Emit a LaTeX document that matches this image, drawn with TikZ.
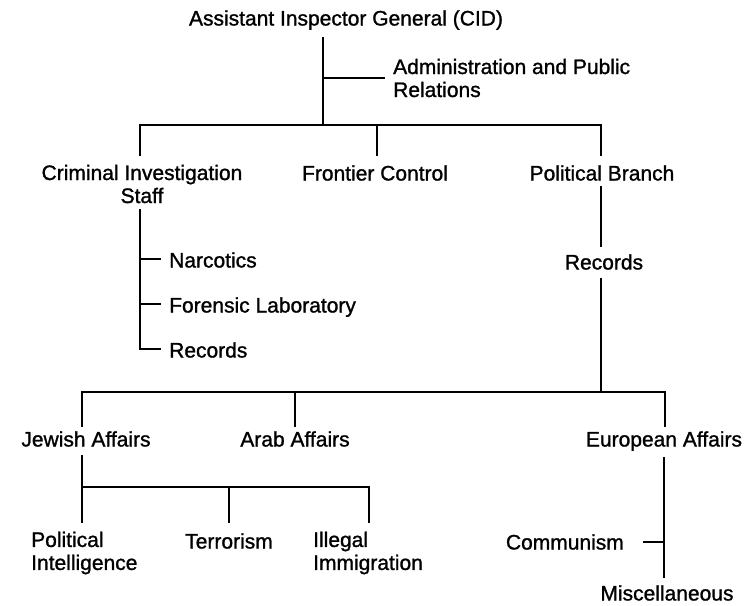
\documentclass[tikz,border=0pt]{standalone}
\usepackage{fontspec}
\setmainfont{Liberation Sans}[FakeBold=1.2]
\begin{document}
\begin{tikzpicture}[x=1pt,y=-1pt,
  lbl/.style={inner sep=0pt, text height=15pt, text depth=0pt, font=\fontsize{21}{23}\selectfont},
  ml/.style={inner sep=0pt, font=\fontsize{21}{23}\selectfont},
  conn/.style={line width=2.6pt, line join=miter, line cap=butt}]
\useasboundingbox (0,0) rectangle (752,605);

% ---- top level
\node[lbl] (title) at (346,18) {Assistant Inspector General (CID)};
\node[ml, anchor=west, align=left] (admin) at (393,78) {Administration and Public\\Relations};

\coordinate (s0) at (323,37);
\coordinate (s1) at (323,125);
\coordinate (sa) at (323,78);
\draw[conn] (s0) -- (s1);
\draw[conn] (sa) -- ([xshift=-8pt]sa -| admin.west);

% ---- second level
\node[ml, align=center] (cis) at (142,184) {Criminal Investigation\\Staff};
\node[lbl] (frontier) at (375,173) {Frontier Control};
\node[lbl] (political) at (602,173) {Political Branch};

\coordinate (d1) at (140,156);
\coordinate (d2) at (377,156);
\coordinate (d3) at (601,156);
\draw[conn] (d1) -- (d1 |- s1) -- (d3 |- s1) -- (d3);
\draw[conn] (d2) -- (d2 |- s1);

% ---- criminal investigation staff
\node[lbl, anchor=west] (narc) at (169,260) {Narcotics};
\node[lbl, anchor=west] (foren) at (169,305) {Forensic Laboratory};
\node[lbl, anchor=west] (recs) at (169,350) {Records};

\coordinate (c0) at (140,209);
\coordinate (c1) at (140,259);
\coordinate (c2) at (140,304);
\coordinate (c3) at (140,349);
\draw[conn] (c0) -- (c3) -- ([xshift=-8pt]c3 -| recs.west);
\draw[conn] (c1) -- ([xshift=-8pt]c1 -| narc.west);
\draw[conn] (c2) -- ([xshift=-8pt]c2 -| foren.west);

% ---- political branch
\node[lbl] (recp) at (604,262) {Records};
\coordinate (p0) at (601,186);
\coordinate (p1) at (601,247);
\coordinate (p2) at (601,278);
\coordinate (p3) at (601,392);
\draw[conn] (p0) -- (p1);
\draw[conn] (p2) -- (p3);

% ---- third level
\node[lbl] (jewish) at (86,439) {Jewish Affairs};
\node[lbl] (arab) at (295,439) {Arab Affairs};
\node[lbl] (europe) at (664,439) {European Affairs};

\coordinate (q1) at (82,427);
\coordinate (q2) at (295,427);
\coordinate (q3) at (665,427);
\draw[conn] (q1) -- (q1 |- p3) -- (q3 |- p3) -- (q3);
\draw[conn] (q2) -- (q2 |- p3);

% ---- jewish affairs
\node[ml, anchor=west, align=left] (polint) at (31,553) {Political\\Intelligence};
\node[lbl] (terror) at (229,541) {Terrorism};
\node[ml, anchor=west, align=left] (illegal) at (313,553) {Illegal\\Immigration};

\coordinate (j0) at (82,455);
\coordinate (jb) at (82,487);
\coordinate (j1) at (82,523);
\coordinate (j2) at (229,523);
\coordinate (j3) at (369,523);
\draw[conn] (j0) -- (j1);
\draw[conn] (jb) -- (j3 |- jb) -- (j3);
\draw[conn] (j2) -- (j2 |- jb);

% ---- european affairs
\node[lbl, anchor=east] (comm) at (624,542) {Communism};
\node[lbl] (misc) at (667,593) {Miscellaneous};

\coordinate (e0) at (664,457);
\coordinate (ec) at (664,542);
\coordinate (e1) at (664,578);
\draw[conn] (e0) -- (e1);
\draw[conn] (ec) -- ([xshift=19pt]ec -| comm.east);
\end{tikzpicture}
\end{document}
